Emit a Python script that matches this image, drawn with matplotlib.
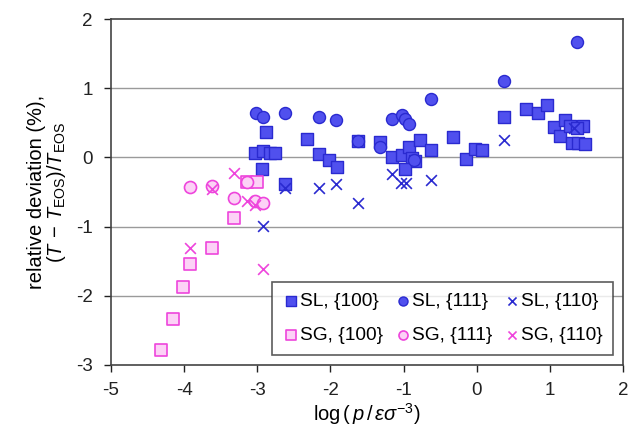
import matplotlib
matplotlib.use("Agg")
import matplotlib.pyplot as plt

plt.rcParams['font.family'] = ['Liberation Sans', 'DejaVu Sans']
plt.rcParams['mathtext.fontset'] = 'custom'
plt.rcParams['mathtext.rm'] = 'Liberation Sans'
plt.rcParams['mathtext.it'] = 'Liberation Sans:italic'
plt.rcParams['axes.unicode_minus'] = False

# SL, {100}
sl100_x = [-2.88, -3.03, -2.92, -2.83, -2.76, -2.94, -2.62, -2.32, -2.16, -2.02, -1.91,
           -1.62, -1.32, -1.16, -1.02, -0.93, -0.88, -0.84, -0.98, -0.78, -0.62, -0.32,
           -0.15, -0.02, 0.07, 0.37, 0.67, 0.84, 0.96, 1.06, 1.21, 1.14, 1.28, 1.45,
           1.37, 1.30, 1.38, 1.48]
sl100_y = [0.37, 0.06, 0.09, 0.06, 0.06, -0.17, -0.38, 0.27, 0.05, -0.04, -0.14,
           0.24, 0.22, 0.01, 0.03, 0.15, -0.01, -0.05, -0.17, 0.25, 0.11, 0.29,
           -0.02, 0.12, 0.11, 0.58, 0.70, 0.64, 0.76, 0.44, 0.54, 0.31, 0.45, 0.45,
           0.42, 0.21, 0.21, 0.19]
# SL, {111}
sl111_x = [-3.02, -2.92, -2.62, -2.16, -1.92, -1.16, -1.02, -0.98, -0.93, -0.62,
           0.37, 1.37, -1.62, -1.32, -0.86]
sl111_y = [0.64, 0.58, 0.64, 0.58, 0.54, 0.55, 0.61, 0.55, 0.48, 0.84,
           1.10, 1.67, 0.24, 0.15, -0.04]
# SL, {110}
sl110_x = [-2.62, -2.16, -1.92, -1.62, -1.16, -1.03, -0.97, -0.62, 0.37, -2.92, 1.33]
sl110_y = [-0.44, -0.44, -0.38, -0.66, -0.24, -0.37, -0.37, -0.33, 0.25, -0.99, 0.42]
# SG, {100}
sg100_x = [-3.14, -3.00, -3.32, -3.62, -3.92, -4.02, -4.15, -4.32]
sg100_y = [-0.36, -0.36, -0.88, -1.31, -1.54, -1.87, -2.34, -2.78]
# SG, {111}
sg111_x = [-3.92, -3.62, -3.32, -3.14, -3.03, -2.92]
sg111_y = [-0.43, -0.41, -0.59, -0.36, -0.63, -0.66]
# SG, {110}
sg110_x = [-3.32, -3.62, -3.14, -3.03, -3.92, -2.92]
sg110_y = [-0.23, -0.46, -0.63, -0.69, -1.31, -1.61]

blue_face = '#5050ee'
blue_edge = '#2a2ad0'
pink_face = '#fcd2f6'
pink_edge = '#ee45dc'

fig = plt.figure(figsize=(6.29, 4.34), dpi=100)
ax = fig.add_axes([0.1765, 0.159, 0.814, 0.797])

for y in [-2, -1, 0, 1]:
    ax.axhline(y, color='#9a9a9a', lw=1.0, zorder=0)

ax.scatter(sl100_x, sl100_y, marker='s', s=75, c=blue_face, edgecolors=blue_edge,
           linewidths=1.0, label='SL, {100}', zorder=3)
ax.scatter(sg100_x, sg100_y, marker='s', s=75, c=pink_face, edgecolors=pink_edge,
           linewidths=1.2, label='SG, {100}', zorder=3)
ax.scatter(sl111_x, sl111_y, marker='o', s=75, c=blue_face, edgecolors=blue_edge,
           linewidths=1.0, label='SL, {111}', zorder=3)
ax.scatter(sg111_x, sg111_y, marker='o', s=75, c=pink_face, edgecolors=pink_edge,
           linewidths=1.2, label='SG, {111}', zorder=3)
ax.scatter(sl110_x, sl110_y, marker='x', s=60, c=blue_edge, linewidths=1.2,
           label='SL, {110}', zorder=3)
ax.scatter(sg110_x, sg110_y, marker='x', s=60, c=pink_edge, linewidths=1.2,
           label='SG, {110}', zorder=3)

ax.set_xlim(-5, 2)
ax.set_ylim(-3, 2)
ax.set_xticks(range(-5, 3))
ax.set_yticks(range(-3, 3))
ax.tick_params(direction='out', length=5, width=1, labelsize=13.5, colors='#222222')
ax.tick_params(axis='y', pad=8)
ax.tick_params(axis='x', pad=7)
for sp in ax.spines.values():
    sp.set_color('#444444')
    sp.set_linewidth(1.2)

ax.set_xlabel(r'log$\,(\,p\,/\,\varepsilon\sigma^{-3})$', fontsize=14.5, labelpad=2)
ax.set_ylabel('relative deviation (%),\n' + r'$(T\,-\,T_{\rm EOS})/T_{\rm EOS}$',
              fontsize=14.5, labelpad=6, linespacing=0.95)

leg = ax.legend(ncol=3, loc='lower right', bbox_to_anchor=(0.980, 0.029),
                borderaxespad=0.0,
                fontsize=13.8, frameon=True, fancybox=False, edgecolor='#333333',
                handletextpad=0.0, columnspacing=0.6, borderpad=0.55,
                labelspacing=0.9, handlelength=0.9, markerscale=0.75)
leg.get_frame().set_linewidth(1.2)

fig.savefig('out.png', dpi=100)
